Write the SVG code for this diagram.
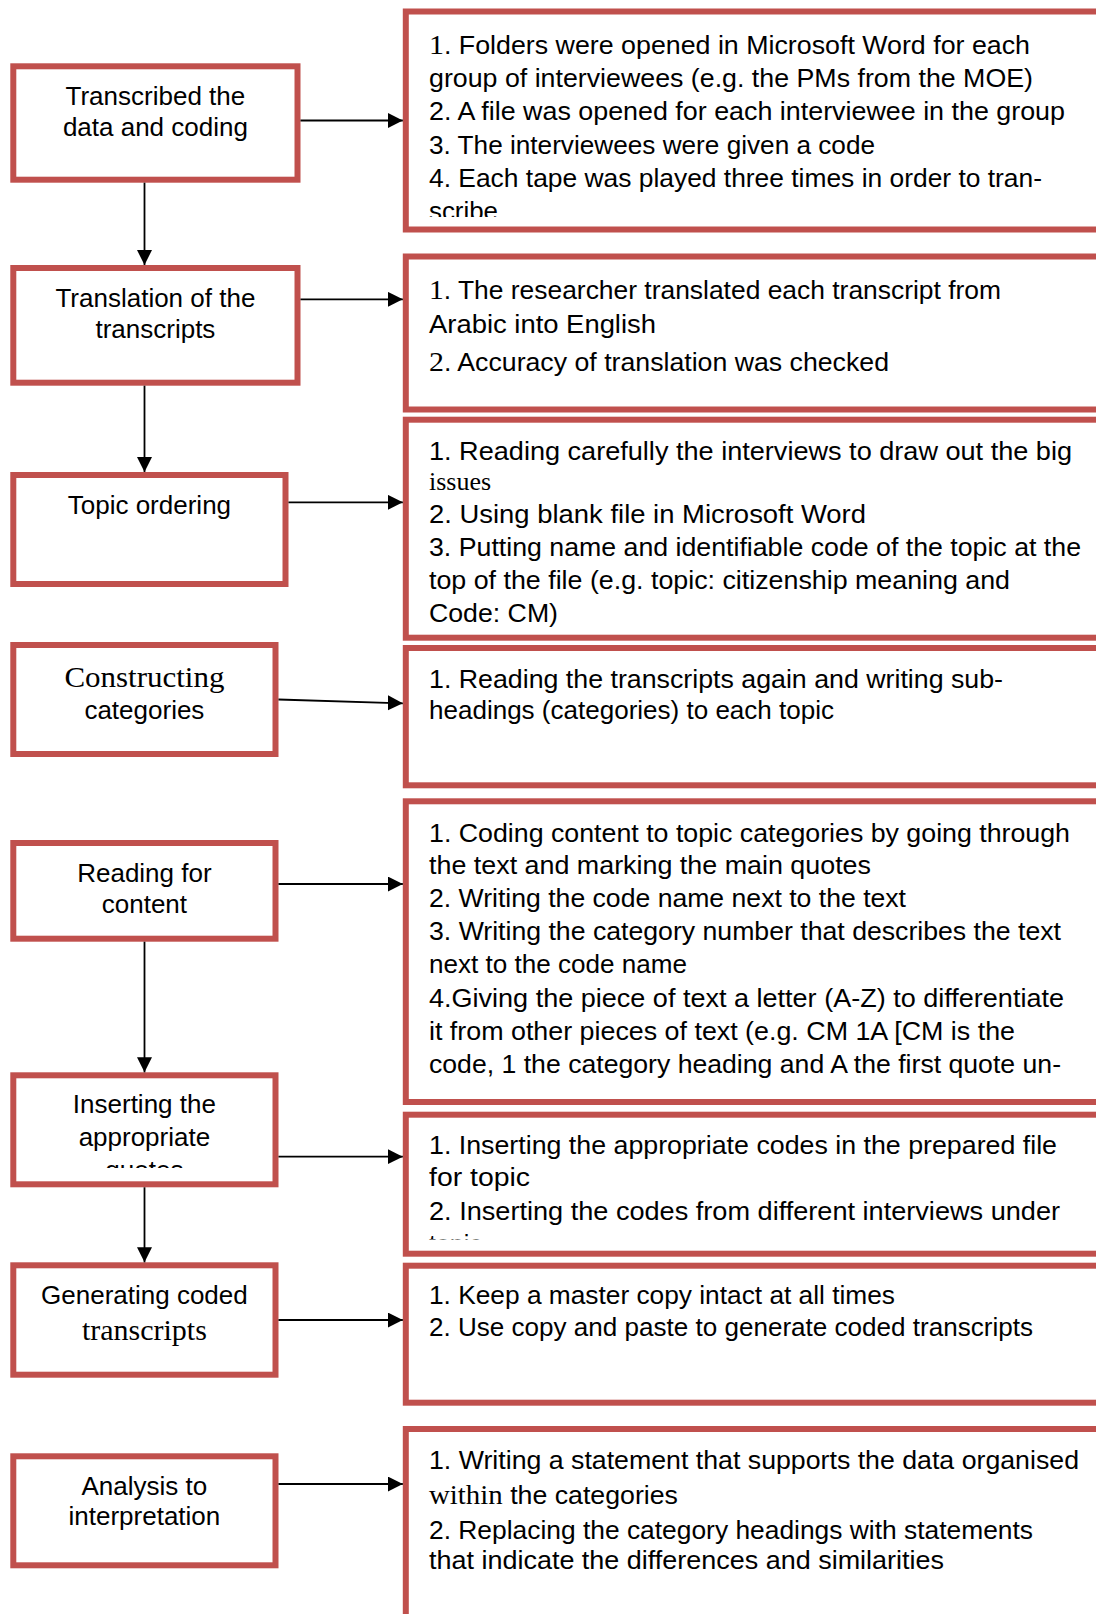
<svg xmlns="http://www.w3.org/2000/svg" width="1096" height="1614" viewBox="0 0 1096 1614">
<style>
.box{fill:#fff;stroke:#C0504D;stroke-width:6}
.lt{font-family:"Liberation Sans",Arial,sans-serif;font-size:26px;fill:#000;text-anchor:middle}
.rt{font-family:"Liberation Sans",Arial,sans-serif;font-size:25px;fill:#000}
.sf{font-family:"Liberation Serif","Times New Roman",serif}
.big{font-size:30px}
.conn{stroke:#000;stroke-width:1.8;fill:none;marker-end:url(#arr)}
</style>
<defs>
<marker id="arr" markerUnits="userSpaceOnUse" markerWidth="16" markerHeight="16" refX="15" refY="7.5" orient="auto">
<path d="M0,0 L15,7.5 L0,15 z" fill="#000"/>
</marker>
<clipPath id="clipR1"><rect x="409" y="14" width="700" height="203"/></clipPath>
<clipPath id="clipL6"><rect x="16" y="1078" width="256" height="90"/></clipPath>
<clipPath id="clipR6"><rect x="409" y="1118" width="700" height="121.5"/></clipPath>
</defs>

<g id="n1">
<rect class="box" x="13.3" y="66.3" width="284.2" height="113.4"/>
<text class="lt" x="155.4" y="105">Transcribed the</text>
<text class="lt" x="155.4" y="136">data and coding</text>
</g>
<g id="n2">
<rect class="box" x="13.3" y="268" width="284.2" height="114.7"/>
<text class="lt" x="155.4" y="306.7">Translation of the</text>
<text class="lt" x="155.4" y="337.7">transcripts</text>
</g>
<g id="n3">
<rect class="box" x="13.3" y="475" width="272.2" height="109"/>
<text class="lt" x="149.4" y="514.3">Topic ordering</text>
</g>
<g id="n4">
<rect class="box" x="13.3" y="645" width="262.2" height="109"/>
<text class="lt sf big" x="144.4" y="686.7" textLength="160" lengthAdjust="spacingAndGlyphs">Constructing</text>
<text class="lt" x="144.4" y="719">categories</text>
</g>
<g id="n5">
<rect class="box" x="13.3" y="843" width="262.2" height="95.7"/>
<text class="lt" x="144.4" y="881.7">Reading for</text>
<text class="lt" x="144.4" y="912.7">content</text>
</g>
<g id="n6">
<rect class="box" x="13.3" y="1075.3" width="262.2" height="109"/>
<g clip-path="url(#clipL6)">
<text class="lt" x="144.4" y="1113.3">Inserting the</text>
<text class="lt" x="144.4" y="1146">appropriate</text>
<text class="lt" x="144.4" y="1178.7">quotes</text>
</g>
</g>
<g id="n7">
<rect class="box" x="13.3" y="1265.3" width="262.2" height="109.4"/>
<text class="lt" x="144.4" y="1304">Generating coded</text>
<text class="lt sf big" x="144.4" y="1340">transcripts</text>
</g>
<g id="n8">
<rect class="box" x="13.3" y="1456.3" width="262.2" height="109"/>
<text class="lt" x="144.4" y="1495">Analysis to</text>
<text class="lt" x="144.4" y="1525">interpretation</text>
</g>

<g id="d1">
<rect class="box" x="405.8" y="11.5" width="720" height="218"/>
<g clip-path="url(#clipR1)">
<text class="rt" x="429" y="53.5" textLength="601" lengthAdjust="spacingAndGlyphs"><tspan class="sf" font-size="28">1</tspan>. Folders were opened in Microsoft Word for each</text>
<text class="rt" x="429" y="87" textLength="604" lengthAdjust="spacingAndGlyphs">group of interviewees (e.g. the PMs from the MOE)</text>
<text class="rt" x="429" y="120" textLength="636" lengthAdjust="spacingAndGlyphs">2. A file was opened for each interviewee in the group</text>
<text class="rt" x="429" y="153.5" textLength="446" lengthAdjust="spacingAndGlyphs">3. The interviewees were given a code</text>
<text class="rt" x="429" y="186.5" textLength="613" lengthAdjust="spacingAndGlyphs">4. Each tape was played three times in order to tran-</text>
<text class="rt" x="429" y="219.5" textLength="69" lengthAdjust="spacingAndGlyphs">scribe</text>
</g>
</g>
<g id="d2">
<rect class="box" x="405.8" y="256.5" width="720" height="153"/>
<text class="rt" x="429" y="298.5" textLength="572" lengthAdjust="spacingAndGlyphs"><tspan class="sf" font-size="28">1</tspan>. The researcher translated each transcript from</text>
<text class="rt" x="429" y="332.5" textLength="227" lengthAdjust="spacingAndGlyphs">Arabic into English</text>
<text class="rt" x="429" y="370.5" textLength="460" lengthAdjust="spacingAndGlyphs"><tspan class="sf" font-size="28">2</tspan>. Accuracy of translation was checked</text>
</g>
<g id="d3">
<rect class="box" x="405.8" y="419.7" width="720" height="218"/>
<text class="rt" x="429" y="460" textLength="643" lengthAdjust="spacingAndGlyphs">1. Reading carefully the interviews to draw out the big</text>
<text class="rt sf" x="429" y="489.5" textLength="62" lengthAdjust="spacingAndGlyphs">issues</text>
<text class="rt" x="429" y="522.5" textLength="437" lengthAdjust="spacingAndGlyphs">2. Using blank file in Microsoft Word</text>
<text class="rt" x="429" y="556" textLength="652" lengthAdjust="spacingAndGlyphs">3. Putting name and identifiable code of the topic at the</text>
<text class="rt" x="429" y="588.5" textLength="581" lengthAdjust="spacingAndGlyphs">top of the file (e.g. topic: citizenship meaning and</text>
<text class="rt" x="429" y="621.5" textLength="129" lengthAdjust="spacingAndGlyphs">Code: CM)</text>
</g>
<g id="d4">
<rect class="box" x="405.8" y="648" width="720" height="137.3"/>
<text class="rt" x="429" y="687.5" textLength="574" lengthAdjust="spacingAndGlyphs">1. Reading the transcripts again and writing sub-</text>
<text class="rt" x="429" y="718.5" textLength="405" lengthAdjust="spacingAndGlyphs">headings (categories) to each topic</text>
</g>
<g id="d5">
<rect class="box" x="405.8" y="801.3" width="720" height="300.7"/>
<text class="rt" x="429" y="841.5" textLength="641" lengthAdjust="spacingAndGlyphs">1. Coding content to topic categories by going through</text>
<text class="rt" x="429" y="873.5" textLength="442" lengthAdjust="spacingAndGlyphs">the text and marking the main quotes</text>
<text class="rt" x="429" y="906.5" textLength="477" lengthAdjust="spacingAndGlyphs">2. Writing the code name next to the text</text>
<text class="rt" x="429" y="940" textLength="632" lengthAdjust="spacingAndGlyphs">3. Writing the category number that describes the text</text>
<text class="rt" x="429" y="972.5" textLength="258" lengthAdjust="spacingAndGlyphs">next to the code name</text>
<text class="rt" x="429" y="1006.5" textLength="635" lengthAdjust="spacingAndGlyphs">4.Giving the piece of text a letter (A-Z) to differentiate</text>
<text class="rt" x="429" y="1040" textLength="586" lengthAdjust="spacingAndGlyphs">it from other pieces of text (e.g. CM 1A [CM is the</text>
<text class="rt" x="429" y="1072.5" textLength="632" lengthAdjust="spacingAndGlyphs">code, 1 the category heading and A the first quote un-</text>
</g>
<g id="d6">
<rect class="box" x="405.8" y="1114.7" width="720" height="139"/>
<g clip-path="url(#clipR6)">
<text class="rt" x="429" y="1153.5" textLength="628" lengthAdjust="spacingAndGlyphs">1. Inserting the appropriate codes in the prepared file</text>
<text class="rt" x="429" y="1186" textLength="101" lengthAdjust="spacingAndGlyphs">for topic</text>
<text class="rt" x="429" y="1220" textLength="631" lengthAdjust="spacingAndGlyphs">2. Inserting the codes from different interviews under</text>
<text class="rt" x="429" y="1253">topic</text>
</g>
</g>
<g id="d7">
<rect class="box" x="405.8" y="1265.7" width="720" height="137"/>
<text class="rt" x="429" y="1303.5" textLength="466" lengthAdjust="spacingAndGlyphs">1. Keep a master copy intact at all times</text>
<text class="rt" x="429" y="1336" textLength="604" lengthAdjust="spacingAndGlyphs">2. Use copy and paste to generate coded transcripts</text>
</g>
<g id="d8">
<rect class="box" x="405.8" y="1429" width="720" height="300"/>
<text class="rt" x="429" y="1468.5" textLength="650" lengthAdjust="spacingAndGlyphs">1. Writing a statement that supports the data organised</text>
<text class="rt" x="429" y="1504" textLength="249" lengthAdjust="spacingAndGlyphs"><tspan class="sf" font-size="27">within</tspan> the categories</text>
<text class="rt" x="429" y="1538.5" textLength="604" lengthAdjust="spacingAndGlyphs">2. Replacing the category headings with statements</text>
<text class="rt" x="429" y="1568.5" textLength="515" lengthAdjust="spacingAndGlyphs">that indicate the differences and similarities</text>
</g>

<g id="connectors">
<path class="conn" d="M144.5,182.7 V265"/>
<path class="conn" d="M144.5,385.7 V472"/>
<path class="conn" d="M144.5,941.7 V1072.3"/>
<path class="conn" d="M144.5,1187.3 V1262.3"/>
<path class="conn" d="M300.5,120.5 H402.8"/>
<path class="conn" d="M300.5,299.3 H402.8"/>
<path class="conn" d="M288.5,502.3 H402.8"/>
<path class="conn" d="M278.5,699.5 L402.8,703.3"/>
<path class="conn" d="M278.5,884 H402.8"/>
<path class="conn" d="M278.5,1156.7 H402.8"/>
<path class="conn" d="M278.5,1320 H402.8"/>
<path class="conn" d="M278.5,1484 H402.8"/>
</g>
</svg>
